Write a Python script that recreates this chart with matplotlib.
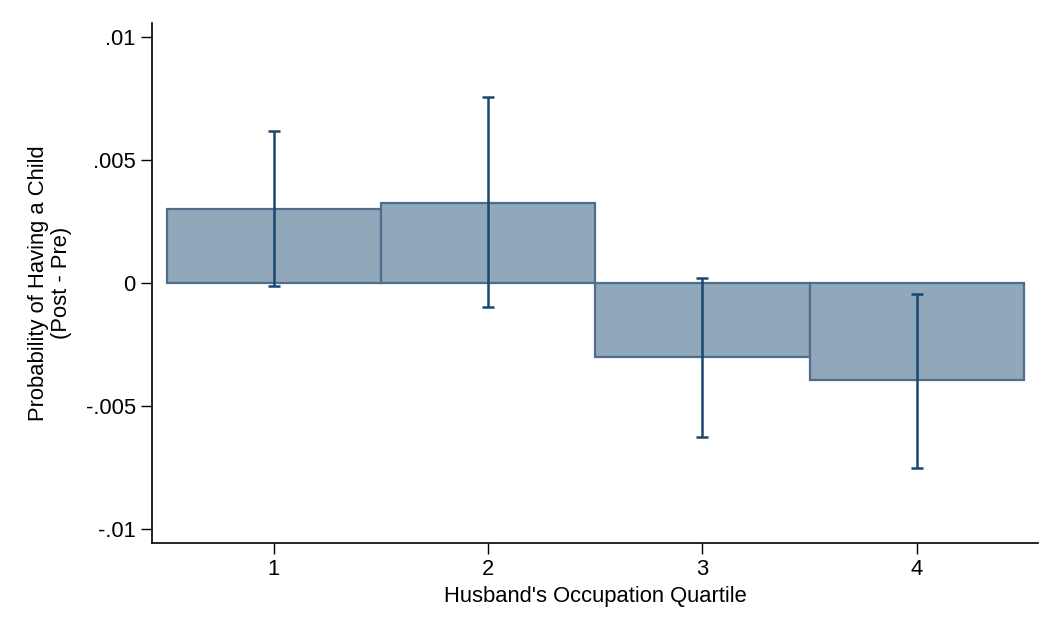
import matplotlib
matplotlib.use("Agg")
import matplotlib.pyplot as plt

# husband's occupation quartile, estimated change and 95% CI
quartiles = [1, 2, 3, 4]
effect = [0.00298, 0.00325, -0.00301, -0.00396]
ci_low = [-0.00012, -0.00099, -0.00626, -0.00752]
ci_high = [0.00617, 0.00755, 0.00018, -0.00047]

plt.rcParams["font.family"] = ["Liberation Sans", "DejaVu Sans"]
FS = 15.8

fig = plt.figure(figsize=(10.61, 6.36), dpi=100)
ax = fig.add_axes([0.1436, 0.1467, 0.8345, 0.8176])

ax.bar(quartiles, effect, width=1.0, color="#91a7ba", edgecolor="#4f6d8c",
       linewidth=1.6, zorder=2)
err = [[e - lo for e, lo in zip(effect, ci_low)],
       [hi - e for e, hi in zip(effect, ci_high)]]
ax.errorbar(quartiles, effect, yerr=err, fmt="none", ecolor="#1a476f",
            elinewidth=1.8, capsize=4, capthick=1.8, zorder=3)

ax.set_xlim(0.434, 4.565)
ax.set_ylim(-0.01057, 0.01057)
ax.set_xticks(quartiles)
ax.set_yticks([-0.01, -0.005, 0, 0.005, 0.01])
ax.set_yticklabels(["-.01", "-.005", "0", ".005", ".01"])
ax.tick_params(labelsize=FS, length=8, width=1, pad=4)

ax.spines["top"].set_visible(False)
ax.spines["right"].set_visible(False)
for s in ("left", "bottom"):
    ax.spines[s].set_linewidth(1.2)

ax.set_xlabel("Husband's Occupation Quartile", fontsize=FS, labelpad=4)
ax.set_ylabel("Probability of Having a Child\n(Post - Pre)", fontsize=FS,
              linespacing=1.1, labelpad=10)

fig.savefig("out.png", dpi=100)
